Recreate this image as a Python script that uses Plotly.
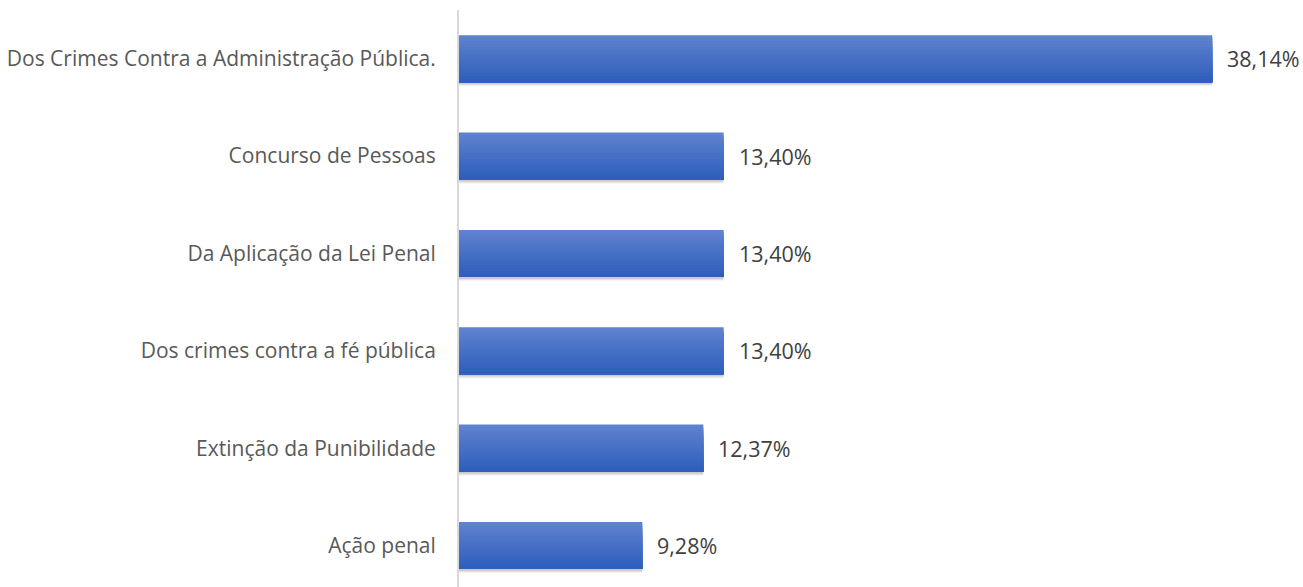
import plotly.graph_objects as go

categories = [
    "Dos Crimes Contra a Administração Pública.",
    "Concurso de Pessoas",
    "Da Aplicação da Lei Penal",
    "Dos crimes contra a fé pública",
    "Extinção da Punibilidade",
    "Ação penal",
]
values = [38.14, 13.40, 13.40, 13.40, 12.37, 9.28]
labels = [f"{v:.2f}%".replace(".", ",") for v in values]

top_rgb = (94, 130, 206)
bot_rgb = (47, 94, 188)
N = 16
W = 0.4835
pos = list(range(len(categories)))
FONT = "Open Sans, sans-serif"

fig = go.Figure()

# soft shadow
for k, a in enumerate([0.10, 0.07, 0.04]):
    fig.add_trace(go.Bar(
        x=values, y=pos, orientation="h",
        width=W, offset=-W / 2 + 0.02 + 0.012 * k,
        marker=dict(color=f"rgba(0,0,0,{a})", line=dict(width=0)),
        hoverinfo="skip", showlegend=False,
    ))

# gradient bars built from overlapping stripes (top to bottom)
for i in range(N):
    t = i / (N - 1)
    c = tuple(round(top_rgb[j] + (bot_rgb[j] - top_rgb[j]) * t) for j in range(3))
    start = -W / 2 + i * W / N
    fig.add_trace(go.Bar(
        x=values, y=pos, orientation="h",
        width=W / 2 - start, offset=start,
        marker=dict(color=f"rgb{c}", line=dict(width=0)),
        hoverinfo="skip" if i else None, showlegend=False,
    ))

for p, v, lab in zip(pos, values, labels):
    fig.add_annotation(
        x=v, y=p, text=lab, showarrow=False, xanchor="left", yanchor="middle",
        xshift=13, font=dict(family=FONT, size=21.5, color="#404040"),
    )

fig.update_layout(
    width=1303, height=587,
    margin=dict(l=459, r=54, t=10, b=0),
    paper_bgcolor="white", plot_bgcolor="white",
    barmode="overlay",
    font=dict(family=FONT, size=21, color="#595959"),
    xaxis=dict(range=[0, 40], visible=False, fixedrange=True),
    yaxis=dict(
        tickmode="array", tickvals=pos, ticktext=categories,
        range=[5.426, -0.5],
        showline=True, linecolor="#d9d9d9", linewidth=2,
        showgrid=False, zeroline=False, fixedrange=True,
        ticks="", ticklabelstandoff=17,
        tickfont=dict(size=21, color="#595959"),
    ),
)

fig.write_html(
    "out.html",
    config={"displayModeBar": False},
    post_script="document.body.style.margin='0';document.body.style.overflow='hidden';",
)
